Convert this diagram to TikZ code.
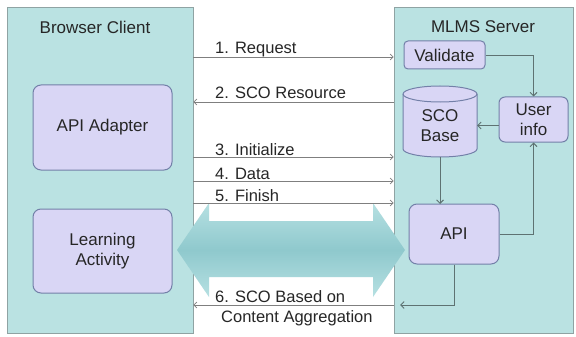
\documentclass[tikz,border=0pt]{standalone}
\usepackage{fontspec}
\setmainfont{Liberation Sans}
\usetikzlibrary{arrows.meta}
\definecolor{panelc}{HTML}{BAE2E2}
\definecolor{panelb}{HTML}{8FA3A3}
\definecolor{boxc}{HTML}{D9D6F5}
\definecolor{boxb}{HTML}{7380A8}
\definecolor{txt}{HTML}{262626}
\definecolor{msgc}{HTML}{7F7F7F}
\definecolor{flowc}{HTML}{5E7272}
\definecolor{arrlight}{HTML}{B6E0E2}
\definecolor{arrdark}{HTML}{8FC9CD}
\tikzset{
  panel/.style={draw=panelb, fill=panelc, line width=0.8pt, inner sep=0},
  ttl/.style={text=txt, font=\fontsize{17}{20}\selectfont, inner sep=0},
  box/.style={draw=boxb, fill=boxc, line width=1pt, rounded corners=8pt, text=txt,
    font=\fontsize{17}{20}\selectfont, align=center, inner sep=0},
  smallbox/.style={box, rounded corners=4pt},
  msg/.style={draw=msgc, line width=0.7pt, -{Straight Barb[length=3pt,width=6pt]}},
  flow/.style={draw=flowc, line width=0.9pt, -{Straight Barb[length=3.5pt,width=7pt]}},
  lbl/.style={text=txt, font=\fontsize{16.5}{20}\selectfont, inner sep=0, anchor=base west}
}
\begin{document}
\begin{tikzpicture}[x=1pt,y=-1pt]
\useasboundingbox (0,0) rectangle (576,337);
\fill[white] (0,0) rectangle (576,337);
% panels
\node[panel, minimum width=186, minimum height=326] (client) at (100,170) {};
\node[panel, minimum width=179, minimum height=326] (server) at (483.5,170) {};
\node[ttl] (ctitle) at (95,27) {Browser Client};
\node[ttl] (stitle) at (483,27) {MLMS Server};
% client boxes
\node[box, minimum width=139, minimum height=85] (adapter) at (102.5,127.5) {API Adapter};
\node[box, minimum width=139, minimum height=84] (learn) at (102.5,251) {Learning\\Activity};
% server boxes
\node[smallbox, minimum width=81, minimum height=28] (validate) at (444.5,55) {Validate};
\node[smallbox, minimum width=69, minimum height=45, rounded corners=6pt] (user) at (533.5,119.5) {User\\info};
\node[box, minimum width=90, minimum height=60] (api) at (454,234) {API};
% cylinder
\filldraw[draw=boxb, fill=boxc, line width=1pt]
  (403,94) -- (403,149) arc (180:360:37pt and 8pt) -- (477,94) arc (0:180:37pt and 8pt) -- cycle;
\draw[draw=boxb, line width=1pt] (403,94) arc (180:360:37pt and 8pt);
\node[text=txt, font=\fontsize{17}{20}\selectfont, align=center, minimum width=74, minimum height=71, inner sep=0] (sco) at (440,126) {SCO\\Base};
% big double arrow
\shade[top color=arrlight, bottom color=arrlight, middle color=arrdark]
  (177,250) -- (209,203) -- (209,221) -- (373,221) -- (373,203) -- (405,250)
  -- (373,297) -- (373,277) -- (209,277) -- (209,297) -- cycle;
% server flows
\draw[flow] (validate.east) -| (user.north);
\draw[flow] ([yshift=-6pt]user.west) -- ([yshift=-6pt]user.west -| 477,0);
\draw[flow] (440,157) -- (440,204);
\draw[flow] (api.east) -| (user.south);
\coordinate (c6) at (400,305);
\draw[flow] (api.south) |- (c6);
% messages
\coordinate (m1) at (0,57);
\coordinate (m2) at (0,102);
\coordinate (m3) at (0,157);
\coordinate (m4) at (0,181);
\coordinate (m5) at (0,203);
\draw[msg] (client.east |- m1) -- (server.west |- m1);
\draw[msg] (server.west |- m2) -- (client.east |- m2);
\draw[msg] (client.east |- m3) -- (server.west |- m3);
\draw[msg] (client.east |- m4) -- (server.west |- m4);
\draw[msg] (client.east |- m5) -- (server.west |- m5);
\draw[msg] (server.west |- c6) -- (client.east |- c6);
\node[lbl] (l1) at (215,54) {1. Request};
\node[lbl] (l2) at (215,99) {2. SCO Resource};
\node[lbl] (l3) at (215,155) {3. Initialize};
\node[lbl] (l4) at (215,179) {4. Data};
\node[lbl] (l5) at (215,201) {5. Finish};
\node[lbl] (l6a) at (215,302) {6. SCO Based on};
\node[lbl] (l6b) at (221,322) {Content Aggregation};
\end{tikzpicture}
\end{document}
